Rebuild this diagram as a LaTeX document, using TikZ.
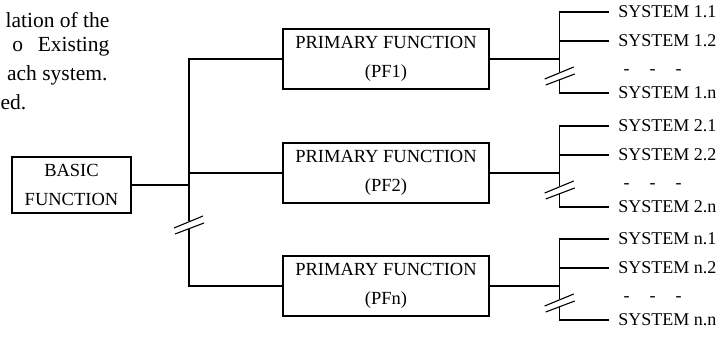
\documentclass[tikz,border=0pt]{standalone}
\usepackage{fontspec}
\setmainfont{Liberation Serif}
\begin{document}
\begin{tikzpicture}[x=1pt,y=-1pt,line width=1.1pt,
	fbox/.style={draw,line width=1.4pt,align=center,inner sep=0pt,font=\fontsize{18.5}{29}\selectfont},
	syslabel/.style={anchor=west,inner xsep=9pt,inner ysep=0pt,font=\fontsize{18}{20}\selectfont},
	note/.style={inner sep=0pt,font=\fontsize{21.5}{24}\selectfont}]
	\useasboundingbox (0,0) rectangle (725,337);
	% text of the page, cut off at the left
	\node[note,anchor=east] (t1) at (110,20) {lation of the};
	\node[note,anchor=east] (t2) at (110,47) {\makebox[97pt][s]{o Existing}};
	\node[note,anchor=east] (t3) at (108,75) {ach system.};
	\node[note,anchor=west] (t4) at (0,102) {ed.};
	% boxes
	\node[fbox,minimum width=119pt,minimum height=56pt] (basic) at (71.5,185) {BASIC\\FUNCTION};
	\node[fbox,minimum width=206pt,minimum height=60pt] (pf1) at (386,59) {PRIMARY FUNCTION\\(PF1)};
	\node[fbox,minimum width=206pt,minimum height=60pt] (pf2) at (386,173) {PRIMARY FUNCTION\\(PF2)};
	\node[fbox,minimum width=206pt,minimum height=60pt] (pfn) at (386,286) {PRIMARY FUNCTION\\(PFn)};
	% main bus
	\coordinate (bus) at (189,185);
	\coordinate (brk) at (189,225);
	\draw (basic.east) -- (bus);
	\draw (pf1.west) -| ([shift={(0,-4)}]brk);
	\draw (pfn.west) -| ([shift={(0,4)}]brk);
	\draw (pf2.west) -- (pf2.west -| bus);
	\draw ([shift={(-15,3)}]brk) -- ++(29,-12);
	\draw ([shift={(-14,9)}]brk) -- ++(29,-11);
	% systems of each primary function
	\foreach \g/\s in {pf1/1,pf2/2,pfn/n}{
		\node[syslabel] (s\s1) at ([shift={(119,-47)}]\g.east) {SYSTEM \s.1};
		\node[syslabel] (s\s2) at ([shift={(119,-18)}]\g.east) {SYSTEM \s.2};
		\node[syslabel] (s\s n) at ([shift={(119,34)}]\g.east) {SYSTEM \s.n};
		\node[inner sep=0pt,font=\fontsize{18}{20}\selectfont] (d\s) at ([shift={(163,13)}]\g.east) {-\hspace{20pt}-\hspace{20pt}-};
		\coordinate (k\s) at ([shift={(70,17)}]\g.east);
		\draw (s\s1.west) -| ([shift={(0,-4)}]k\s);
		\draw (s\s n.west) -| ([shift={(0,4)}]k\s);
		\draw (s\s2.west) -- (s\s2.west -| k\s);
		\draw (\g.east) -- (\g.east -| k\s);
		\draw ([shift={(-15,3)}]k\s) -- ++(29,-12);
		\draw ([shift={(-14,9)}]k\s) -- ++(29,-11);
	}
\end{tikzpicture}
\end{document}
